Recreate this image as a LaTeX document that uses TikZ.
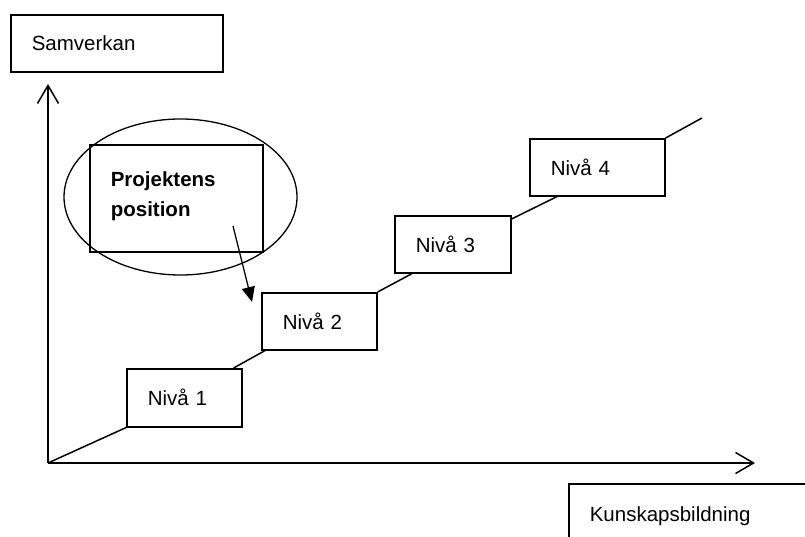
\documentclass[tikz,border=0pt]{standalone}
\usepackage{fontspec}
\setmainfont{Liberation Sans}
\usetikzlibrary{arrows.meta,shapes.geometric,calc}
\begin{document}
\begin{tikzpicture}[x=1pt,y=-1pt,
  every node/.style={font=\fontsize{20.5}{30}\selectfont},
  lbox/.style={draw,line width=1.6pt,anchor=north west,inner xsep=21pt,inner ysep=0pt,align=left},
  axis/.style={line width=1.5pt,-{Straight Barb[length=18pt,width=21pt,line width=1.5pt]}},
  conn/.style={line width=1.5pt},
  ptr/.style={line width=1.3pt,-{Triangle[length=15pt,width=13pt]}}]
\useasboundingbox (0,0) rectangle (805,537);
\clip (0,0) rectangle (805,537);
% axes
\coordinate (o) at (48,463);
\coordinate (ytop) at (48,84);
\coordinate (xend) at (755,463);
\draw[axis] (o) -- (ytop);
\draw[axis] (o) -- (xend);
% axis labels
\node[lbox,text width=170pt,minimum height=57pt] (sam) at (10,14) {Samverkan};
\node[lbox,text width=280pt,minimum height=64pt] (kun) at (568,483) {Kunskapsbildning};
% levels
\node[lbox,text width=73pt,minimum height=58pt] (n1) at (126,368) {Nivå 1};
\node[lbox,text width=73pt,minimum height=57pt] (n2) at (261,292) {Nivå 2};
\node[lbox,text width=74pt,minimum height=57pt] (n3) at (394,215) {Nivå 3};
\node[lbox,text width=93pt,minimum height=57pt] (n4) at (529,138) {Nivå 4};
\coordinate (end) at (702,118);
\draw[conn] (o) -- (n1.south west);
\draw[conn] ([xshift=-9pt]n1.north east) -- ([xshift=4pt]n2.south west);
\draw[conn] (n2.north east) -- ([xshift=18pt]n3.south west);
\draw[conn] ([yshift=-4pt]n3.north east) -- ([xshift=28pt]n4.south west);
\draw[conn] (n4.north east) -- (end);
% project position
\node[draw,ellipse,line width=1.3pt,minimum width=233pt,minimum height=156pt,inner sep=0pt] (ell) at (180.5,197) {};
\node[lbox,text width=131pt,minimum height=107pt,font=\fontsize{20.5}{30}\selectfont\bfseries] (proj) at (89,144) {Projektens\\position\rule[-9pt]{0pt}{9pt}};
\coordinate (ps) at (233,226);
\coordinate (pe) at (252,302);
\draw[ptr] (ps) -- (pe);
\end{tikzpicture}
\end{document}
